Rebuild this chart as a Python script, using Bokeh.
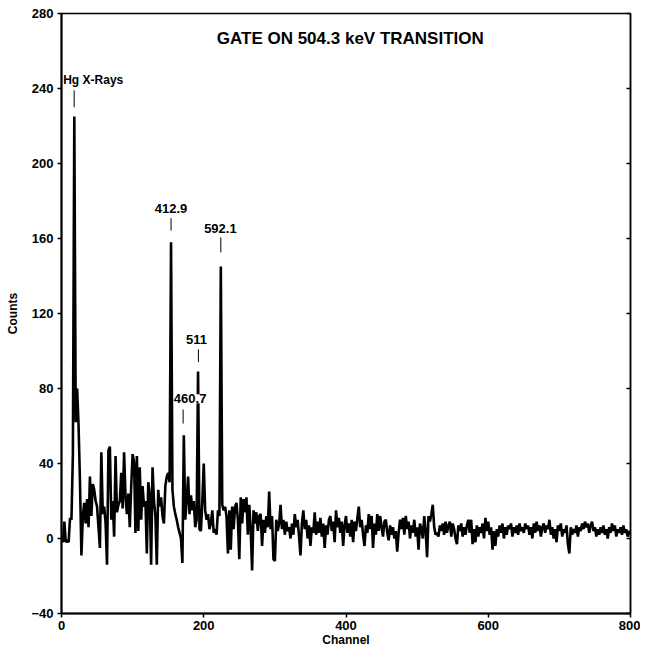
from bokeh.plotting import figure
from bokeh.models import Label, FixedTicker, LinearAxis, Range1d
from bokeh.embed import file_html
from bokeh.resources import INLINE

# Channel numbers (every second channel) and counts
channels = list(range(0, 801, 2))
counts = (
    [0, -2, 9, -2, -1, -2, 11, 10, 45, 225, 62, 80, 60, 30, -9, 12, 19, 8, 21, 6]          # 0-38
    + [33, 12, 29, 26, 20, 17, 6, -5, 46, 13, 17, 8, -14, 47, 49, 10, 20, 1, 44, 14]      # 40-78
    + [18, 20, 35, 16, 46, 22, 13, 24, 6, 28, 45, 41, 3, 44, 4, 38, 10, 28, 17, 20]       # 80-118
    + [-8, 30, 24, -14, 38, 20, 12, -14, 26, 17, 22, 12, 8, 28, 33, 35, 30, 158, 26, 17]  # 120-158
    + [13, 10, 6, 3, 0, -13, 55, 10, 20, 33, 13, 23, 15, 20, 6, 10, 89, 5, 4, 20]         # 160-198
    + [40, 15, 10, 13, 5, 8, 15, 3, 5, 2, 15, 12, 145, 18, 15, 17, 12, -8, 15, -6]        # 200-238
    + [17, 5, 17, 19, 10, -11, 22, 8, 21, 14, 22, 2, 18, 5, -17, 15, 8, 14, 4, 12]        # 240-278
    + [13, -4, 10, 3, 12, 6, 25, 5, 12, -11, -12, 10, 4, 8, 18, 5, 10, 2, 9, 4]           # 280-318
    + [6, 0, 8, 2, 13, 6, 10, 1, -9, 8, 15, 5, 10, 0, 7, -4, 6, 3, 14, 2]                 # 320-358
    + [9, 3, 11, 1, 8, -5, 7, 2, 10, 12, 4, 9, -2, 15, 6, 11, 3, 9, -4, 7]                # 360-398
    + [12, 3, 8, 1, 10, -2, 9, 4, 11, 17, 6, 10, 2, -4, 7, 3, 13, 5, 12, -5]              # 400-438
    + [8, 2, 13, 4, 12, 6, 1, 9, 10, 3, -1, 7, 2, 6, 0, 4, -7, 3, 10, 5]                  # 440-478
    + [11, 2, 12, 5, 9, 0, 7, 3, 10, 1, 6, -6, 8, 5, 0, 12, 4, -10, 12, 9]                # 480-518
    + [13, 18, 6, 2, 3, 1, 7, 4, 8, 2, 9, 3, 7, 9, 1, 8, 5, 0, -3, 7]                     # 520-558
    + [4, 8, 1, 6, 2, 7, 10, 3, 10, -3, 5, -2, 7, 1, 6, 3, 8, 0, 11, 4]                   # 560-598
    + [9, 2, 6, -6, 4, -4, 5, 1, 7, 3, 8, 0, 6, 2, 7, 5, 8, 1, 6, 3]                      # 600-638
    + [7, 2, 8, 4, 6, 3, 8, 5, 7, 2, 6, 0, 8, 3, 9, 4, 7, 1, 6, 8]                        # 640-678
    + [3, 7, 5, 10, 2, 6, 0, 5, -2, 7, 4, 8, 1, 5, 3, 7, -3, -8, 6, 2]                    # 680-718
    + [5, 3, 7, 1, 6, 4, 8, 5, 9, 6, 8, 3, 7, 9, 4, 6, 1, 5, 2, 6]                        # 720-758
    + [3, 7, 2, 5, 0, 6, 3, 8, 4, 7, 1, 5, 3, 6, 2, 7, 3, 5, 1, 4, 2]                     # 760-800
)

# Peak annotations
peak_labels = ["412.9", "592.1", "511", "460.7"]
peak_label_x = [154, 223.4, 189.7, 180.8]
peak_label_y = [176, 165.5, 106, 74.5]
marker_x = [17.8, 154, 224, 192.5, 171]
marker_y0 = [230, 164.2, 152.6, 94.1, 61.3]
marker_y1 = [239, 170.8, 160.6, 100.9, 68.8]

y_ticks = [-40, 0, 40, 80, 120, 160, 200, 240, 280]
x_ticks = [0, 200, 400, 600, 800]

FONT = "Liberation Sans"

p = figure(width=640, height=649, output_backend="svg", toolbar_location=None,
           x_range=Range1d(0, 800), y_range=Range1d(-40, 280),
           min_border_left=61, min_border_right=10, min_border_top=13, min_border_bottom=36)
p.background_fill_color = "white"
p.border_fill_color = "white"
p.outline_line_color = "black"
p.outline_line_width = 1.5
p.xgrid.visible = False
p.ygrid.visible = False

p.line(channels, counts, line_color="black", line_width=2.6)
p.segment(x0=marker_x, y0=marker_y0, x1=marker_x, y1=marker_y1,
          line_color="black", line_width=1)

for ax in (p.xaxis[0], p.yaxis[0]):
    ax.axis_line_width = 2
    ax.axis_line_color = "black"
    ax.major_tick_line_width = 1.5
    ax.major_tick_out = 4
    ax.major_tick_in = 0
    ax.minor_tick_line_color = None
    ax.major_label_text_font = FONT
    ax.major_label_text_font_style = "bold"
    ax.major_label_text_font_size = "13px"
    ax.major_label_text_color = "black"
    ax.axis_label_text_font = FONT
    ax.axis_label_text_font_style = "bold"
    ax.axis_label_text_font_size = "12px"
    ax.axis_label_text_color = "black"

p.xaxis.ticker = FixedTicker(ticks=x_ticks)
p.yaxis.ticker = FixedTicker(ticks=y_ticks)
p.xaxis.axis_label = "Channel"
p.yaxis.axis_label = "Counts"
p.xaxis.major_label_standoff = 3
p.xaxis.axis_label_standoff = 0
p.yaxis.major_label_standoff = 4
p.yaxis.axis_label_standoff = 8

right = LinearAxis(ticker=FixedTicker(ticks=y_ticks), major_label_text_color=None,
                   major_tick_in=4, major_tick_out=0, minor_tick_line_color=None,
                   axis_line_width=1.5, major_tick_line_width=1.5)
p.add_layout(right, "right")

p.add_layout(Label(x=406, y=266.7, text="GATE ON 504.3 keV TRANSITION",
                   text_align="center", text_baseline="middle",
                   text_font=FONT, text_font_style="bold", text_font_size="17px",
                   text_color="black"))
p.add_layout(Label(x=2.4, y=244.4, text="Hg X-Rays", text_align="left",
                   text_baseline="middle", text_font=FONT, text_font_style="bold",
                   text_font_size="12px", text_color="black"))
for t, lx, ly in zip(peak_labels, peak_label_x, peak_label_y):
    p.add_layout(Label(x=lx, y=ly, text=t, text_align="center", text_baseline="middle",
                       text_font=FONT, text_font_style="bold", text_font_size="13px",
                       text_color="black", background_fill_color="white"))

open("out.html", "w").write(file_html(p, INLINE))
